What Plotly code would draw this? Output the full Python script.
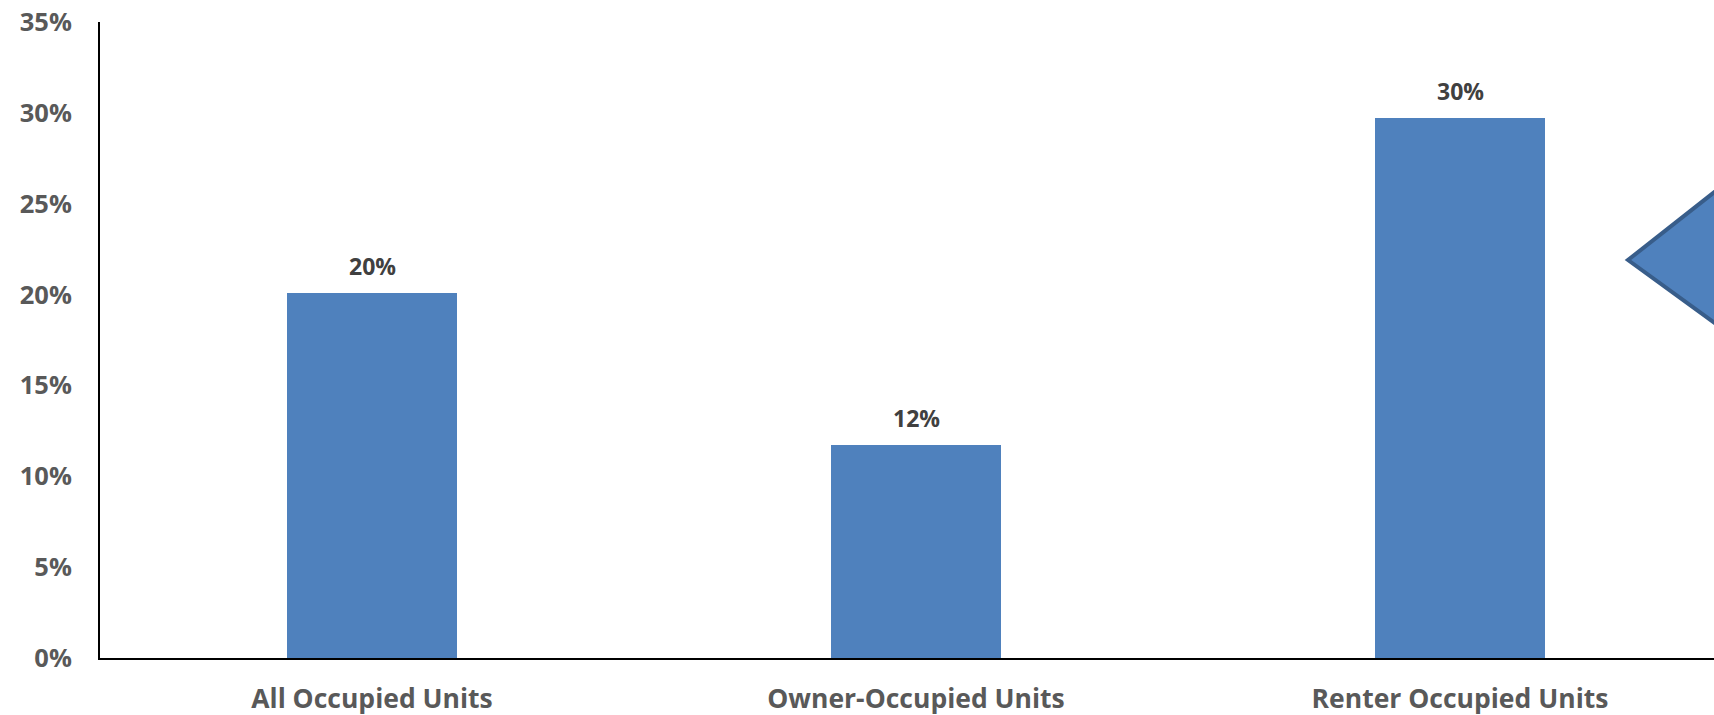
import plotly.graph_objects as go

categories = ["All Occupied Units", "Owner-Occupied Units", "Renter Occupied Units"]
values = [20.1, 11.7, 29.7]
labels = ["20%", "12%", "30%"]
tick_vals = [0, 5, 10, 15, 20, 25, 30, 35]
tick_text = ["0%", "5%", "10%", "15%", "20%", "25%", "30%", "35%"]

W, H = 1714, 715
L, T, B, R = 100, 22, H - 658, 0
pw, ph = W - L - R, H - T - B

fig = go.Figure()
fig.add_trace(go.Bar(
    x=list(range(len(categories))), y=values, width=0.3125,
    marker=dict(color="#4F81BD", line=dict(width=0)),
    hoverinfo="skip",
))

for i, (v, t) in enumerate(zip(values, labels)):
    fig.add_annotation(x=i, y=v, text=t, showarrow=False, yanchor="bottom",
                       yshift=9, font=dict(family="Open Sans", size=23, color="#404040",
                                           weight="bold"))

def px(x):
    return (x - L) / pw

def py(y):
    return (H - B - y) / ph

tip = (1628, 260)
path = (f"M {px(1745)},{py(168)} L {px(tip[0])},{py(tip[1])} "
        f"L {px(1745)},{py(345)} Z")
fig.add_shape(type="path", xref="paper", yref="paper", path=path,
              fillcolor="#4F81BD", line=dict(color="#385D8A", width=4), layer="above")

fig.update_layout(
    width=W, height=H,
    margin=dict(l=L, r=R, t=T, b=B, autoexpand=False),
    paper_bgcolor="white", plot_bgcolor="white",
    showlegend=False,
    bargap=0,
)
fig.update_xaxes(
    range=[-0.5, -0.5 + pw / 544], tickvals=list(range(len(categories))),
    ticktext=categories, showgrid=False, zeroline=False,
    showline=True, linecolor="black", linewidth=2,
    ticks="", automargin=False, ticklabelstandoff=16,
    tickfont=dict(family="Open Sans", size=26.5, color="#595959", weight="bold"),
)
fig.update_yaxes(
    range=[0, 35], tickvals=tick_vals, ticktext=tick_text,
    showgrid=False, zeroline=False, showline=True, linecolor="black", linewidth=2,
    ticks="", automargin=False, ticklabelstandoff=21, ticklabeloverflow="allow",
    tickfont=dict(family="Open Sans", size=25.5, color="#595959", weight="bold"),
)

fig.write_html(
    "out.html",
    config={"displayModeBar": False},
    post_script="document.body.style.margin='0';document.body.style.overflow='hidden';",
)
